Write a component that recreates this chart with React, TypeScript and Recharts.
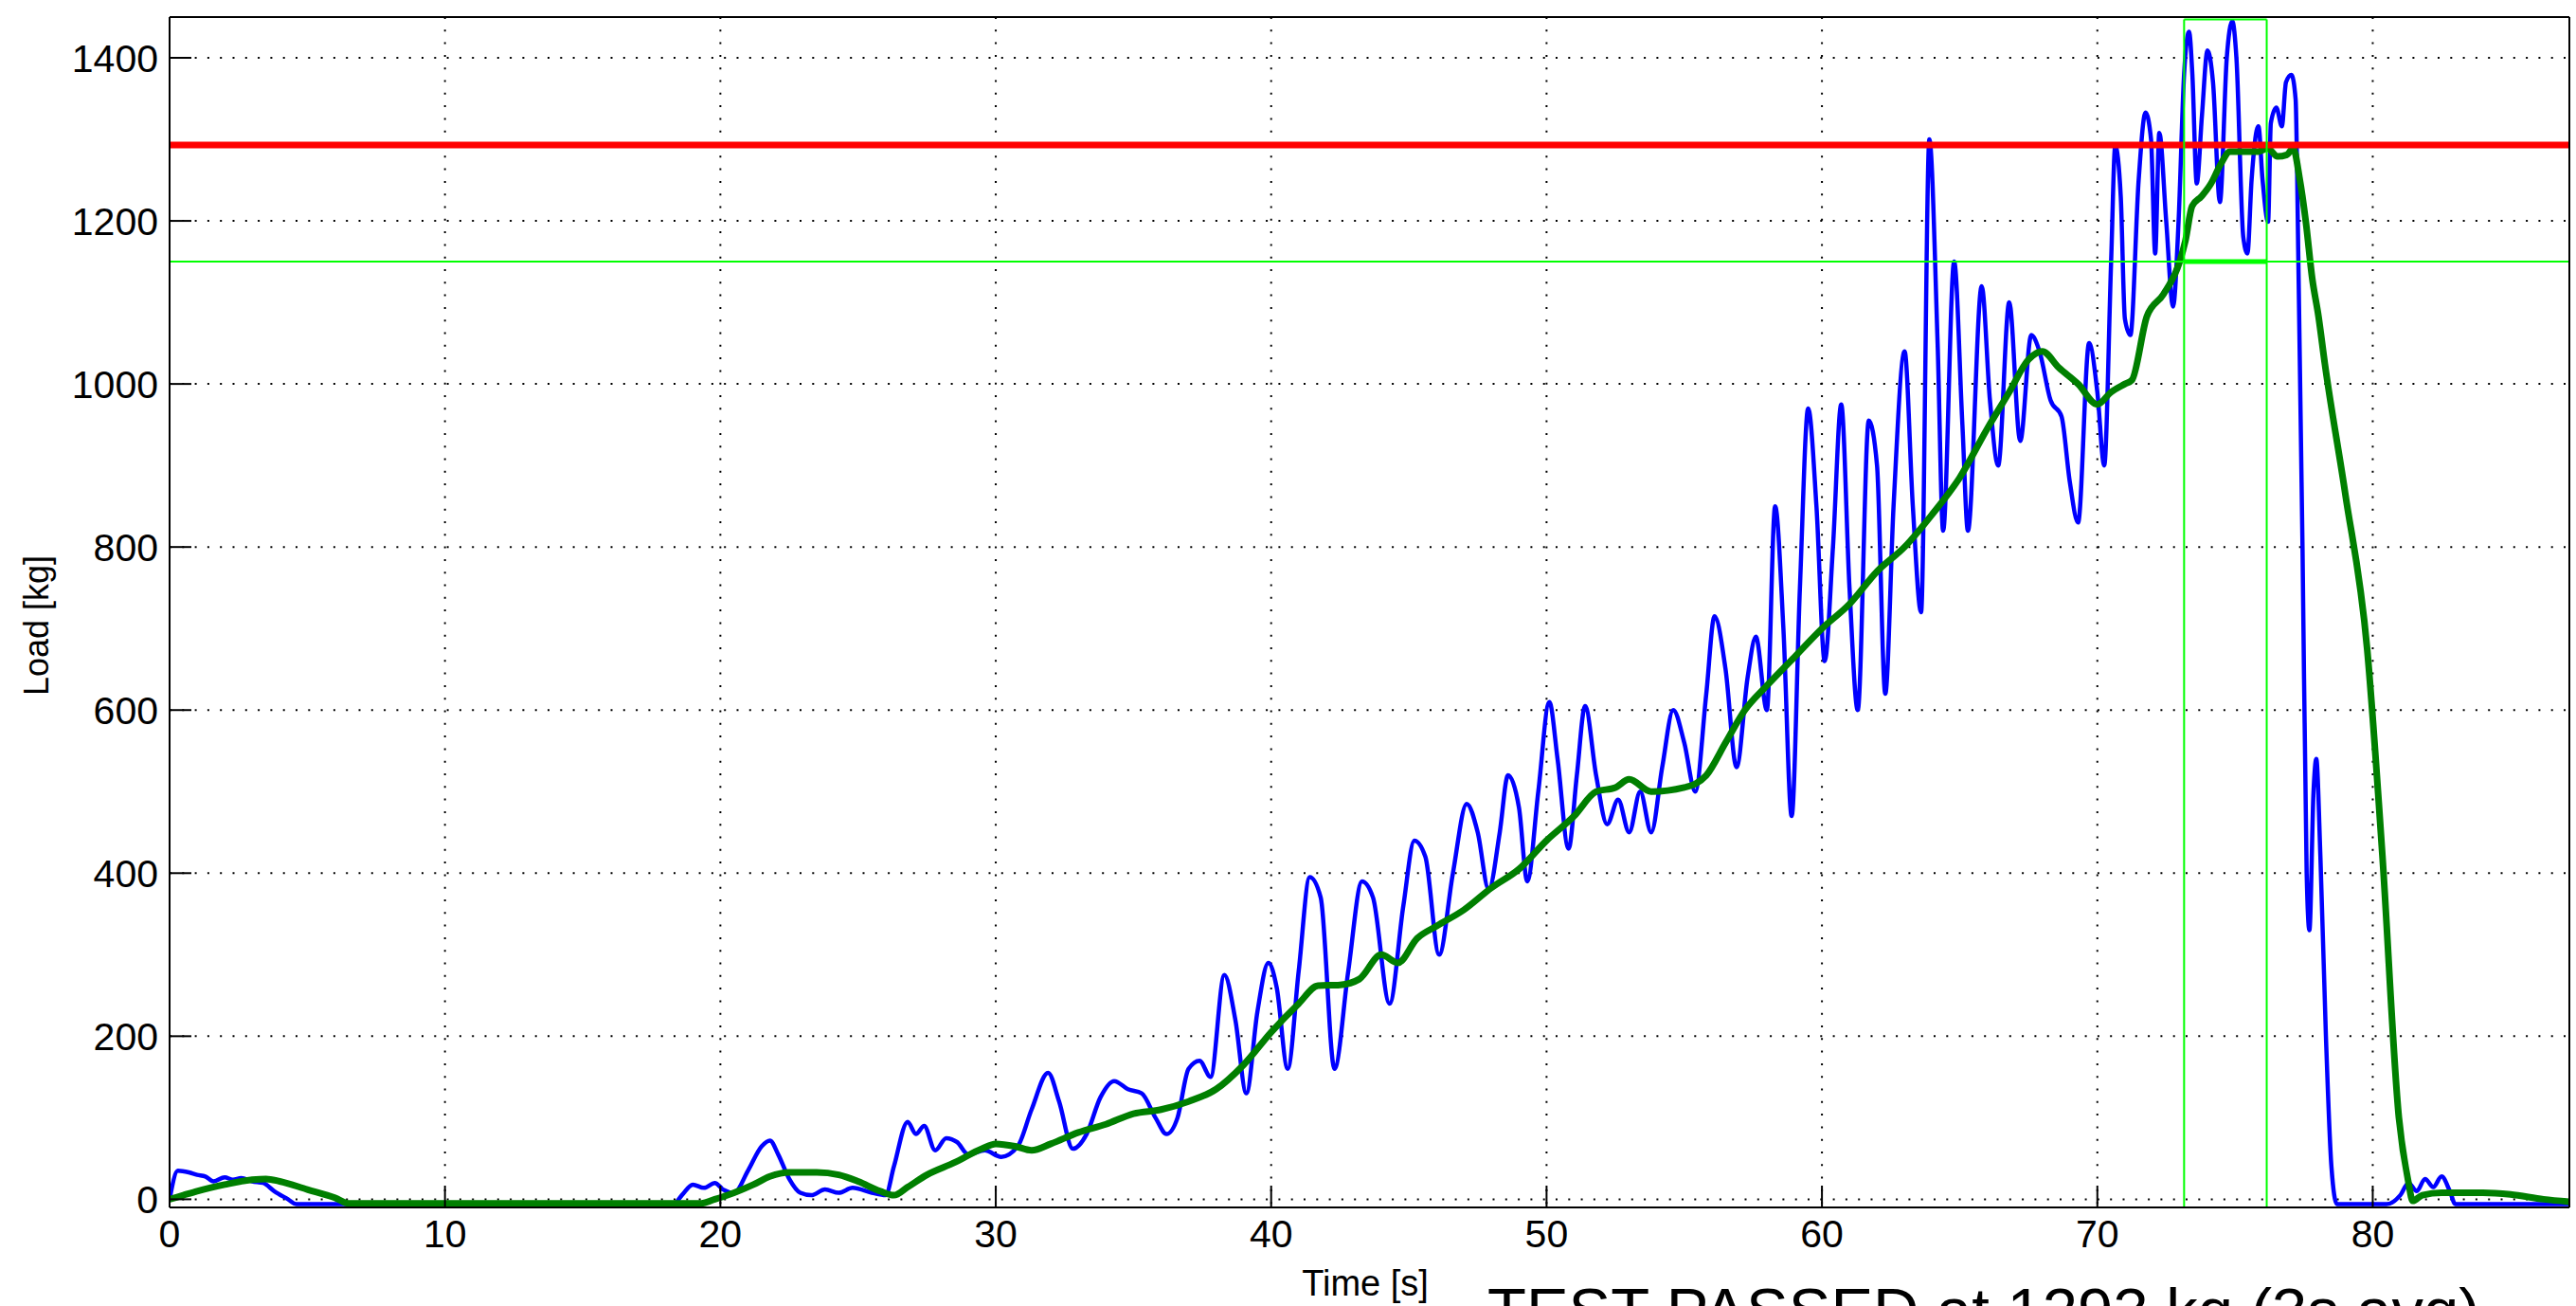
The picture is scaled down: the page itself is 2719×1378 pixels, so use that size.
import React from 'react';
import { LineChart, Line, XAxis, YAxis, CartesianGrid, ReferenceLine } from 'recharts';

// ---- axis / reference values ----
const xTicks = [0, 10, 20, 30, 40, 50, 60, 70, 80];
const yTicks = [0, 200, 400, 600, 800, 1000, 1200, 1400];
const xDomain: [number, number] = [0, 87.14];
const yDomain: [number, number] = [-10, 1450];
const passLoad = 1293;
const thresholdLoad = 1150;
const windowStart = 73.15;
const windowEnd = 76.15;
const windowMax = 1447;

// ---- raw load samples [time s, load kg] ----
const rawLoad: [number, number][] = [
  [0, 0], [0.3, 35], [0.7, 33], [1.0, 30], [1.3, 28], [1.6, 22], [2.0, 27], [2.3, 24], [2.6, 26],
  [3.0, 22], [3.4, 20], [3.8, 10], [4.3, 0], [4.6, -6], [6.5, -6], [18.3, -6], [18.6, 5], [19.0, 18],
  [19.4, 14], [19.8, 20], [20.1, 12], [20.5, 8], [21.0, 35], [21.5, 65], [21.8, 72], [22.1, 55],
  [22.5, 25], [22.9, 8], [23.3, 5], [23.8, 12], [24.3, 8], [24.8, 14], [25.5, 8], [26.0, 5],
  [26.3, 40], [26.8, 95], [27.1, 80], [27.4, 90], [27.8, 60], [28.2, 75], [28.6, 70], [29.0, 55],
  [29.6, 60], [30.2, 52], [30.8, 65], [31.3, 110], [31.9, 155], [32.3, 120], [32.8, 62], [33.3, 80],
  [33.8, 125], [34.3, 145], [34.8, 135], [35.3, 130], [35.8, 100], [36.2, 80], [36.6, 100], [37.0, 160],
  [37.4, 170], [37.8, 150], [38.3, 275], [38.7, 220], [39.1, 130], [39.5, 230], [39.9, 290], [40.2, 260],
  [40.6, 160], [41.0, 280], [41.4, 395], [41.8, 370], [42.3, 160], [42.8, 280], [43.3, 390], [43.7, 370],
  [44.3, 240], [44.8, 360], [45.2, 440], [45.6, 420], [46.1, 300], [46.6, 400], [47.1, 485], [47.5, 450],
  [47.9, 380], [48.3, 450], [48.6, 520], [49.0, 480], [49.3, 390], [49.7, 500], [50.1, 610], [50.4, 540],
  [50.8, 430], [51.1, 520], [51.4, 605], [51.8, 520], [52.2, 460], [52.6, 490], [53.0, 450], [53.4, 500],
  [53.8, 450], [54.2, 530], [54.6, 600], [55.0, 560], [55.4, 500], [55.8, 620], [56.1, 715], [56.5, 650],
  [56.9, 530], [57.3, 640], [57.6, 690], [58.0, 600], [58.3, 850], [58.6, 700], [58.9, 470], [59.2, 750],
  [59.5, 970], [59.8, 850], [60.1, 660], [60.4, 800], [60.7, 975], [61.0, 750], [61.3, 600], [61.7, 955],
  [62.0, 900], [62.3, 620], [62.6, 850], [63.0, 1040], [63.3, 850], [63.6, 720], [63.9, 1300], [64.2, 1050],
  [64.4, 820], [64.8, 1150], [65.1, 950], [65.3, 820], [65.8, 1120], [66.1, 980], [66.4, 900], [66.8, 1100],
  [67.2, 930], [67.6, 1060], [67.9, 1040], [68.3, 980], [68.7, 960], [69.0, 880], [69.3, 830], [69.7, 1050],
  [70.0, 990], [70.25, 900], [70.5, 1150], [70.65, 1292], [70.85, 1230], [71.0, 1080], [71.2, 1060],
  [71.5, 1250], [71.75, 1333], [71.95, 1300], [72.1, 1160], [72.25, 1308], [72.5, 1200], [72.75, 1095],
  [72.95, 1200], [73.15, 1380], [73.33, 1432], [73.45, 1380], [73.61, 1246], [73.8, 1330], [74.0, 1409],
  [74.2, 1370], [74.45, 1223], [74.7, 1400], [74.9, 1445], [75.05, 1400], [75.3, 1180], [75.45, 1160],
  [75.6, 1250], [75.85, 1316], [76.0, 1250], [76.2, 1199], [76.3, 1320], [76.5, 1339], [76.7, 1316],
  [76.85, 1370], [77.05, 1379], [77.2, 1349], [77.3, 1150], [77.45, 800], [77.6, 400], [77.7, 330],
  [77.85, 500], [77.95, 540], [78.1, 420], [78.3, 200], [78.5, 40], [78.7, -6], [80.5, -6], [81.0, 5],
  [81.3, 20], [81.6, 10], [81.9, 25], [82.2, 15], [82.5, 28], [82.8, 10], [83.0, -6], [87.14, -6],
];

// ---- 3 s moving-average samples [time s, load kg] ----
const avgLoad: [number, number][] = [
  [0, 0], [0.5, 5], [1.0, 10], [2.0, 18], [3.0, 24], [3.5, 25], [4.0, 22], [5.0, 12], [6.0, 2], [6.5, -5],
  [19.3, -5], [19.8, 0], [20.5, 8], [21.2, 18], [21.8, 28], [22.5, 33], [23.5, 33], [24.3, 30], [25.0, 22],
  [25.8, 10], [26.3, 5], [26.8, 15], [27.5, 30], [28.5, 45], [29.5, 62], [30.0, 68], [30.7, 65], [31.3, 60],
  [32.0, 68], [33.0, 82], [34.0, 92], [35.0, 105], [36.0, 110], [37.0, 120], [38.0, 135], [39.0, 165],
  [40.0, 205], [41.0, 240], [41.7, 262], [42.5, 263], [43.2, 270], [44.0, 300], [44.6, 290], [45.3, 320],
  [46.0, 335], [47.0, 355], [48.0, 382], [49.0, 405], [50.0, 440], [51.0, 470], [51.8, 500], [52.5, 505],
  [53.0, 515], [53.8, 500], [55.0, 505], [55.8, 520], [56.5, 560], [57.2, 600], [58.0, 630], [59.0, 665],
  [60.0, 700], [61.0, 730], [62.0, 770], [63.0, 800], [64.0, 840], [65.0, 885], [66.0, 945], [66.8, 990],
  [67.5, 1030], [68.0, 1040], [68.6, 1020], [69.3, 1000], [70.0, 975], [70.5, 990], [71.0, 1000],
  [71.26, 1005], [71.8, 1083], [72.4, 1110], [72.98, 1149], [73.2, 1176], [73.44, 1218], [73.78, 1230],
  [74.13, 1246], [74.47, 1269], [74.82, 1285], [75.27, 1285], [75.85, 1285], [76.19, 1289], [76.54, 1279],
  [76.88, 1281], [77.11, 1289], [77.34, 1253], [77.57, 1199], [77.8, 1130], [78.03, 1083], [78.26, 1025],
  [79.0, 866], [79.8, 674], [80.35, 422], [80.95, 100], [81.3, 20], [81.45, -2], [81.8, 5], [82.5, 8],
  [84.0, 8], [85.0, 6], [86.2, 0], [87.14, -3],
];

const rawData = rawLoad.map(([t, load]) => ({ t, load }));
const avgData = avgLoad.map(([t, load]) => ({ t, load }));

const FONT = '"Liberation Sans", Arial, Helvetica, sans-serif';
const W = 2719;
const H = 1378;

export default function App() {
  return (
    <div style={{ position: 'absolute', left: 0, top: 0, width: W, height: H, overflow: 'hidden', background: '#fff', fontFamily: FONT }}>
      <LineChart width={W} height={H} margin={{ top: 0, right: 0, bottom: 0, left: 0 }}>
        <CartesianGrid stroke="#000" strokeWidth={2} strokeDasharray="2 11.3" />
        <XAxis
          xAxisId={0}
          type="number"
          dataKey="t"
          domain={xDomain}
          ticks={xTicks}
          allowDataOverflow
          height={104}
          tickSize={-23}
          tickMargin={36}
          axisLine={{ stroke: '#000', strokeWidth: 2 }}
          tickLine={{ stroke: '#000', strokeWidth: 2 }}
          tick={{ fill: '#000', fontSize: 41, fontFamily: FONT }}
        />
        <XAxis
          xAxisId="top"
          orientation="top"
          type="number"
          dataKey="t"
          domain={xDomain}
          ticks={xTicks}
          allowDataOverflow
          height={18}
          tickSize={-23}
          axisLine={{ stroke: '#000', strokeWidth: 2 }}
          tickLine={{ stroke: '#000', strokeWidth: 2 }}
          tick={false}
        />
        <YAxis
          yAxisId={0}
          type="number"
          domain={yDomain}
          ticks={yTicks}
          allowDataOverflow
          width={179}
          tickSize={-23}
          tickMargin={35}
          axisLine={{ stroke: '#000', strokeWidth: 2 }}
          tickLine={{ stroke: '#000', strokeWidth: 2 }}
          tick={{ fill: '#000', fontSize: 41, fontFamily: FONT }}
        />
        <YAxis
          yAxisId="right"
          orientation="right"
          type="number"
          domain={yDomain}
          ticks={yTicks}
          allowDataOverflow
          width={7}
          tickSize={-23}
          axisLine={{ stroke: '#000', strokeWidth: 2 }}
          tickLine={{ stroke: '#000', strokeWidth: 2 }}
          tick={false}
        />
        <Line data={rawData} dataKey="load" type="monotone" stroke="#0000FF" strokeWidth={4.5} dot={false} isAnimationActive={false} />
        <Line data={avgData} dataKey="load" type="monotone" stroke="#007F00" strokeWidth={7} dot={false} isAnimationActive={false} />
        <ReferenceLine y={passLoad} stroke="#FF0000" strokeWidth={7} />
        <ReferenceLine y={thresholdLoad} stroke="#00FF00" strokeWidth={2} />
        <ReferenceLine segment={[{ x: windowStart, y: yDomain[0] }, { x: windowStart, y: windowMax }]} stroke="#00FF00" strokeWidth={2} />
        <ReferenceLine segment={[{ x: windowEnd, y: yDomain[0] }, { x: windowEnd, y: windowMax }]} stroke="#00FF00" strokeWidth={2} />
        <ReferenceLine segment={[{ x: windowStart, y: windowMax }, { x: windowEnd, y: windowMax }]} stroke="#00FF00" strokeWidth={2} />
        <ReferenceLine segment={[{ x: windowStart, y: thresholdLoad }, { x: windowEnd, y: thresholdLoad }]} stroke="#00FF00" strokeWidth={5} />
      </LineChart>
      <svg width={W} height={H} style={{ position: 'absolute', left: 0, top: 0, pointerEvents: 'none' }}>
        <text x={38} y={660} transform="rotate(-90 38 660)" textAnchor="middle" dominantBaseline="central" fontFamily={FONT} fontSize={36} fill="#000">Load [kg]</text>
        <text x={1441} y={1367} textAnchor="middle" fontFamily={FONT} fontSize={38} fill="#000">Time [s]</text>
        <text x={1570} y={1406} textAnchor="start" fontFamily={FONT} fontSize={67} fill="#000">TEST PASSED at 1293 kg (3s avg)</text>
      </svg>
    </div>
  );
}
